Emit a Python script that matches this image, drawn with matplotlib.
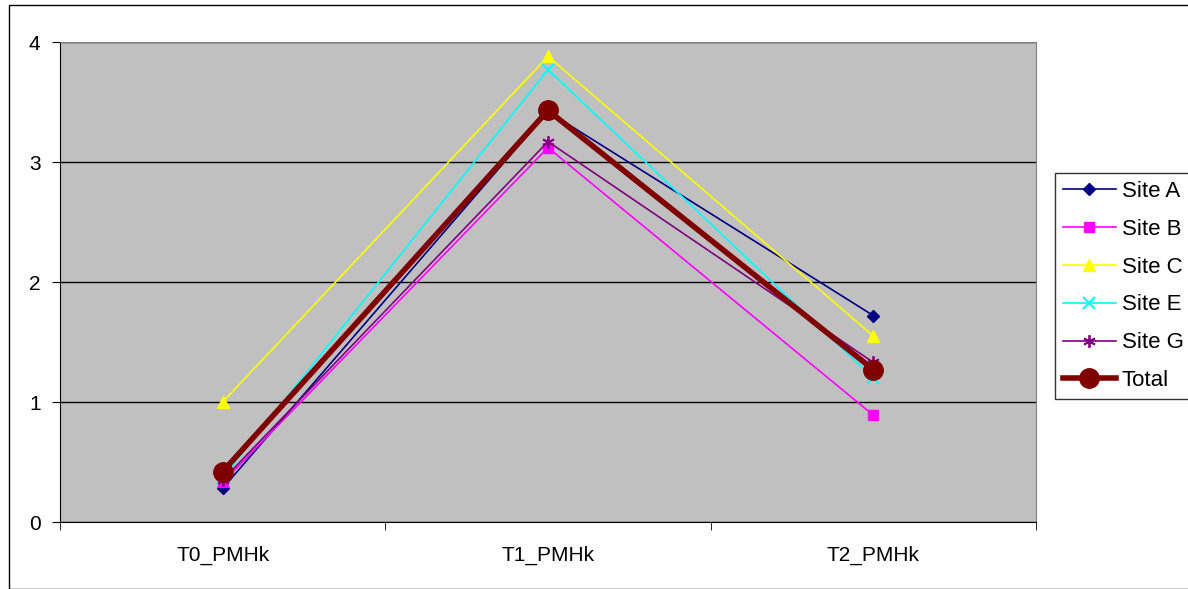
import matplotlib.pyplot as plt
from matplotlib.patches import Rectangle

plt.rcParams['font.family'] = ['Liberation Sans', 'DejaVu Sans']

cats = ['T0_PMHk', 'T1_PMHk', 'T2_PMHk']
site_a = [0.28, 3.42, 1.72]
site_b = [0.33, 3.12, 0.89]
site_c = [1.0, 3.88, 1.55]
site_e = [0.37, 3.77, 1.20]
site_g = [0.35, 3.17, 1.33]
total = [0.42, 3.43, 1.27]

fig = plt.figure(figsize=(11.88, 5.89), dpi=100)
ax = fig.add_axes([60 / 1188, 67 / 589, 976 / 1188, 480 / 589])
ax.set_facecolor('#C0C0C0')

x = [0, 1, 2]
ax.plot(x, site_a, color='#000080', marker='D', markersize=6, lw=1.2, label='Site A')
ax.plot(x, site_b, color='#FF00FF', marker='s', markersize=7, lw=1.2, label='Site B')
ax.plot(x, site_c, color='#FFFF00', marker='^', markersize=9, lw=1.2, label='Site C')
ax.plot(x, site_e, color='#00FFFF', marker='x', markersize=8, mew=1.5, lw=1.2, label='Site E')
ax.plot(x, site_g, color='#800080', marker=(6, 2, 0), markersize=9, mew=1.3, lw=1.2, label='Site G')
ax.plot(x, total, color='#800000', marker='o', markersize=14, lw=4, label='Total')

ax.set_xlim(-0.5, 2.5)
ax.set_ylim(0, 4)
ax.set_yticks([0, 1, 2, 3, 4])
ax.set_xticks(x)
ax.set_xticklabels(cats, fontsize=15)
ax.set_xticks([-0.5, 0.5, 1.5, 2.5], minor=True)
ax.tick_params(axis='x', which='major', length=0, pad=17)
ax.tick_params(axis='x', which='minor', length=6, color='black')
ax.tick_params(axis='y', length=6, labelsize=15, pad=8)
ax.grid(axis='y', color='black', lw=1)
ax.set_axisbelow(True)
for s in ['top', 'right']:
    ax.spines[s].set_color('#808080')
for s in ['left', 'bottom']:
    ax.spines[s].set_color('black')

leg = ax.legend(loc='upper left', bbox_to_anchor=((1055 - 60) / 976, 1 - (173 - 42) / 480),
                fontsize=16, frameon=True, fancybox=False, edgecolor='black',
                borderaxespad=0, handlelength=2.4, labelspacing=0.76, handletextpad=0.25,
                borderpad=0.35)
leg.get_frame().set_linewidth(1)

fig.patches.append(Rectangle((9 / 1188, 0), 1.2, 1 - 5 / 589, transform=fig.transFigure,
                             fill=False, edgecolor='black', lw=1))

fig.savefig('out.png', dpi=100)
